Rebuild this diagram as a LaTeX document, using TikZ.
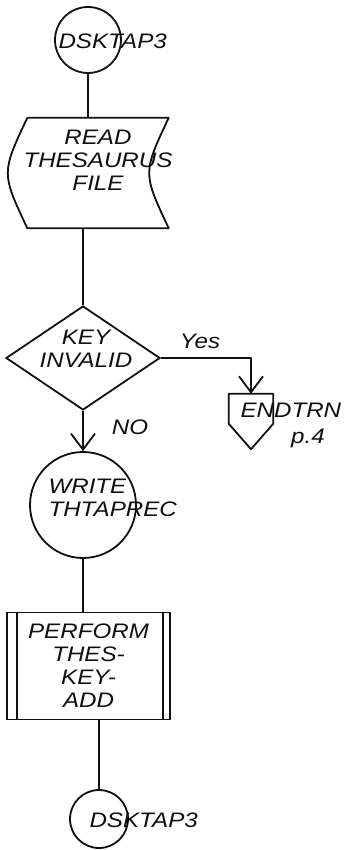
\documentclass[tikz,border=0pt]{standalone}
\usepackage{fontspec}
\newfontfamily\handfont{Liberation Sans}[FakeStretch=1.15]
\usepackage{tikz}
\usetikzlibrary{arrows.meta, positioning, calc, shapes.geometric}
\usepackage{xcolor}
\definecolor{ink}{RGB}{15,15,15}
\tikzset{
  every node/.style={font=\handfont\itshape\fontsize{21}{23}\selectfont, text=ink},
  line/.style={draw=ink, line width=1.8pt, line join=round},
  flow/.style={line, -{Straight Barb[length=16pt, width=24pt]}},
  connector/.style={draw=ink, line width=1.8pt, circle, inner sep=0pt},
  decision/.style={draw=ink, line width=1.8pt, diamond, inner sep=0pt, minimum width=154, minimum height=104},
  process/.style={draw=ink, line width=1.8pt, rectangle, inner sep=0pt, minimum width=163, minimum height=107, align=center}
}
\begin{document}
\begin{tikzpicture}[x=1pt, y=-1pt]
  \useasboundingbox (0,0) rectangle (348,850);
  % Entry connector
  \node[connector, minimum size=66] (start) at (88,40) {};
  \node[anchor=west] (starttxt) at (55,41) {DSKTAP3};
  % Read thesaurus file
  \node[minimum width=141, minimum height=110, inner sep=0pt] (read) at (98,173) {};
  \node[align=center] (readtxt) at (98,160) {READ\\THESAURUS\\FILE};
  \draw[line] (read.north west) -- (read.north east)
    .. controls ($(read.east)+(-26,0)$) .. (read.south east)
    -- (read.south west)
    .. controls ($(read.west)+(-26,0)$) .. (read.north west);
  \draw[line] (start.south) -- (start.south |- read.north);
  % Key invalid?
  \node[decision] (key) at (83,358) {};
  \node[align=center] (keytxt) at (86,349) {KEY\\INVALID};
  \draw[line] (read.south -| key.north) -- (key.north);
  % Yes branch
  \node[minimum width=44, minimum height=55, inner sep=0pt] (endtrn) at (251,421.5) {};
  \draw[line] (endtrn.north west) -- (endtrn.north east) -- ++(0,30)
    -- (endtrn.south) -- ($(endtrn.north west)+(0,30)$) -- cycle;
  \node[anchor=west] (endtxt) at (237,410) {ENDTRN};
  \node (pagetxt) at (308,438) {p.4};
  \draw[flow] (key.east) -| (endtrn.north);
  \node (yes) at (200,341) {Yes};
  % No branch
  \node[connector, minimum size=106] (write) at (83,505) {};
  \node[anchor=west, align=left] (writetxt) at (45,498) {WRITE\\THTAPREC};
  \draw[flow] (key.south) -- (write.north);
  \node (no) at (130,427) {NO};
  % Perform
  \node[process] (perform) at (88.5,666) {PERFORM\\THES-\\KEY-\\ADD};
  \draw[line] ($(perform.north west)+(11,0)$) -- ($(perform.south west)+(11,0)$);
  \draw[line] ($(perform.north east)+(-8,0)$) -- ($(perform.south east)+(-8,0)$);
  \draw[line] (write.south) -- (write.south |- perform.north);
  % Exit connector
  \node[connector, minimum size=58] (stop) at (99,819) {};
  \node[anchor=west] (stoptxt) at (86,820) {DSKTAP3};
  \draw[line] (perform.south -| stop.north) -- (stop.north);
\end{tikzpicture}
\end{document}
